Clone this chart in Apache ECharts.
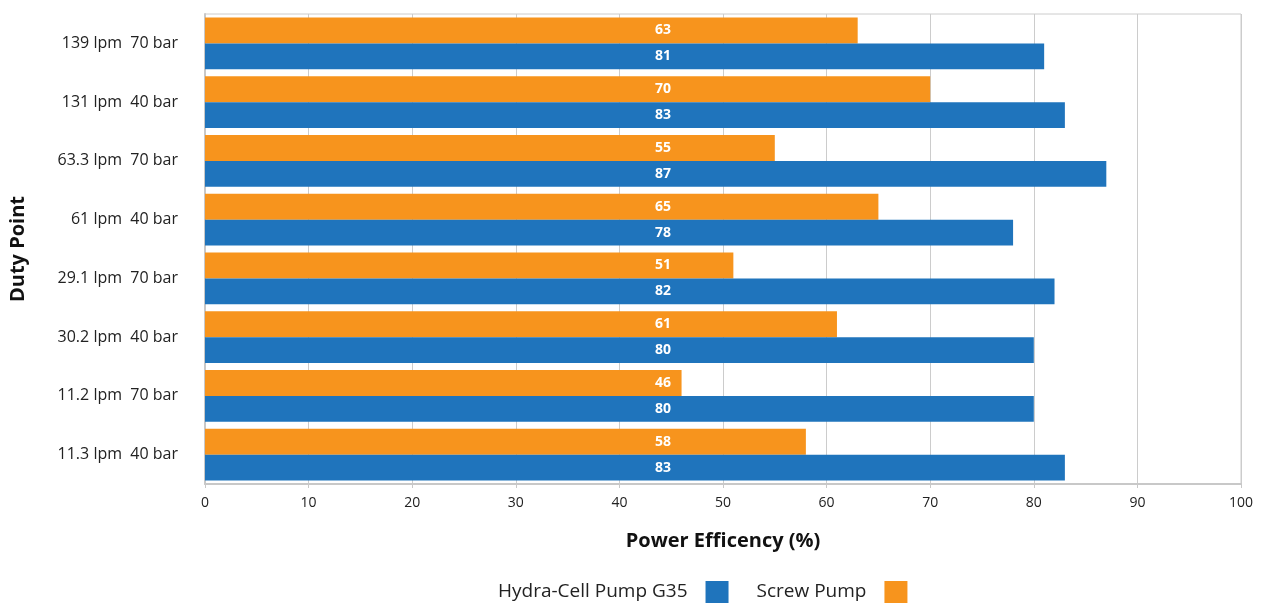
<!DOCTYPE html>
<html><head><meta charset="utf-8">
<script src="https://cdn.jsdelivr.net/npm/echarts@6/dist/echarts.min.js"></script>
<style>html,body{margin:0;padding:0;background:#fff}#c{width:1263px;height:603px}</style>
</head><body><div id="c"></div>
<script>
const categories = ["139 lpm  70 bar","131 lpm  40 bar","63.3 lpm  70 bar","61 lpm  40 bar","29.1 lpm  70 bar","30.2 lpm  40 bar","11.2 lpm  70 bar","11.3 lpm  40 bar"];
const hydraCell = [81,83,87,78,82,80,80,83];
const screwPump = [63,70,55,65,51,61,46,58];
const xTicks = [0,10,20,30,40,50,60,70,80,90,100];

const FONT = '"Open Sans", "Noto Sans", sans-serif';
const chart = echarts.init(document.getElementById('c'), null, {renderer:'canvas'});
const labelCfg = {show:true, position:[458,'50%'], align:'center', verticalAlign:'middle', color:'#fff', fontSize:14, fontWeight:'bold', fontFamily:FONT};
chart.setOption({
  animation:false,
  textStyle:{fontFamily:FONT},
  grid:{left:203, right:22, top:14, bottom:119, show:true, borderColor:'#cccccc', borderWidth:1},
  xAxis:{type:'value', min:xTicks[0], max:xTicks[xTicks.length-1], interval:10,
    name:'Power Efficency (%)', nameLocation:'middle', nameGap:47,
    nameTextStyle:{fontSize:20, fontWeight:'bold', color:'#111', fontFamily:FONT},
    axisLine:{show:true, lineStyle:{color:'#c8c8c8', width:2}},
    axisTick:{show:true, length:4, lineStyle:{color:'#c8c8c8'}},
    axisLabel:{color:'#222', fontSize:14, margin:12, fontFamily:FONT},
    splitLine:{show:true, lineStyle:{color:'#cccccc', width:1}}},
  yAxis:{type:'category', data:categories, inverse:true,
    name:'Duty Point', nameLocation:'middle', nameGap:177, nameRotate:90,
    nameTextStyle:{fontSize:20, fontWeight:'bold', color:'#111', fontFamily:FONT},
    axisLine:{show:true, lineStyle:{color:'#c8c8c8', width:2}},
    axisTick:{show:false},
    axisLabel:{color:'#222', fontSize:16, margin:27, fontFamily:FONT}},
  legend:{bottom:0, left:498, padding:0, itemWidth:23, itemHeight:22, itemGap:28, align:'right',
    icon:'rect', data:['Hydra-Cell Pump G35','Screw Pump'],
    textStyle:{fontSize:19, color:'#222', fontFamily:FONT, padding:[0,13,0,0]}},
  series:[
    {name:'Screw Pump', type:'bar', data:screwPump, barGap:'0%', barCategoryGap:'11.5%',
     itemStyle:{color:'#f7941d'}, label:labelCfg},
    {name:'Hydra-Cell Pump G35', type:'bar', data:hydraCell, barGap:'0%', barCategoryGap:'11.5%',
     itemStyle:{color:'#1f74bc'}, label:labelCfg}
  ]
});
</script></body></html>
